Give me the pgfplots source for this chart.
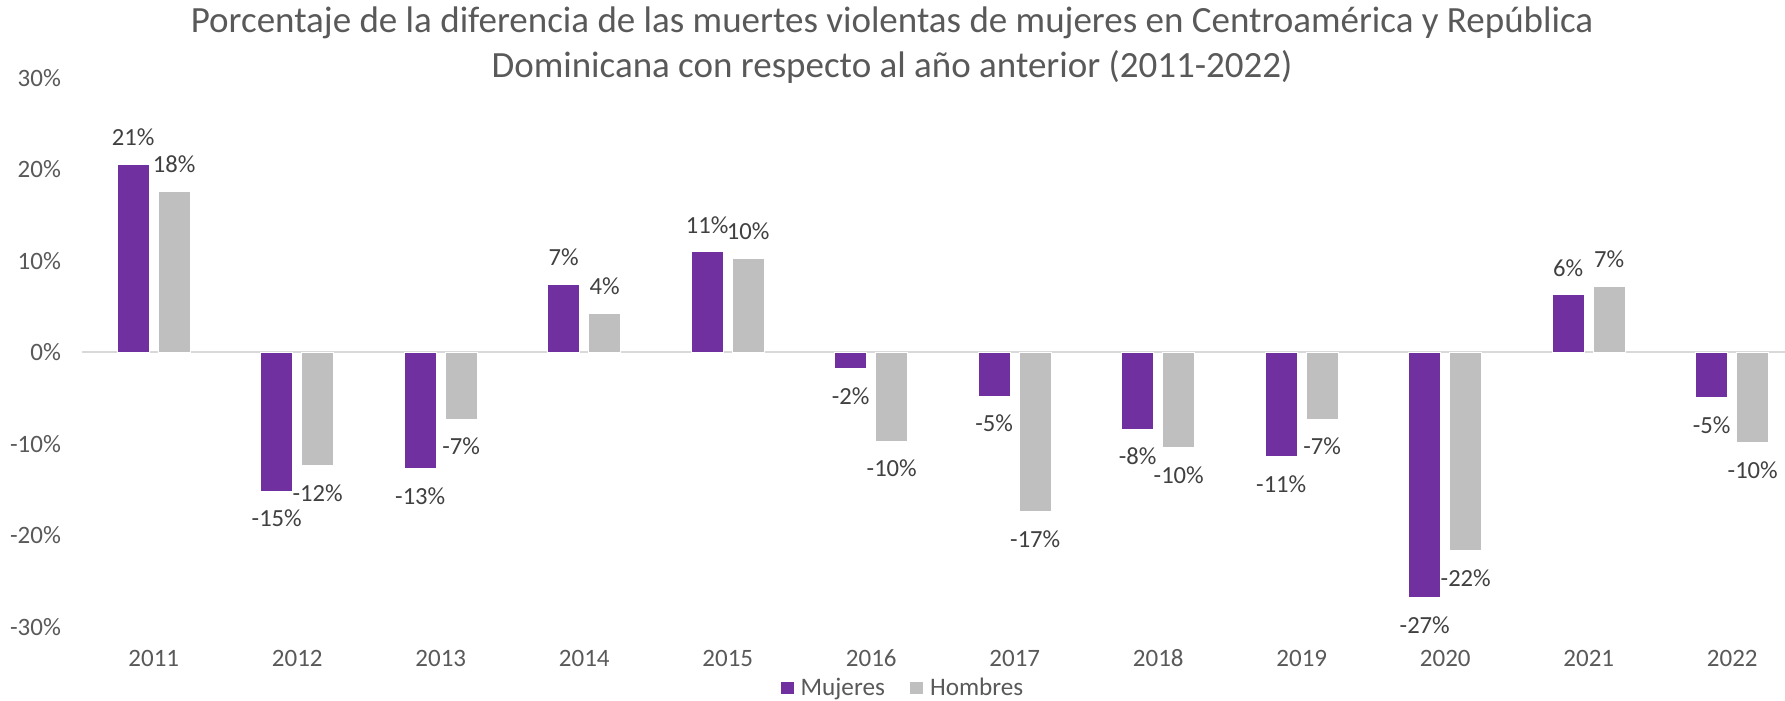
\documentclass[border=0pt]{standalone}
\usepackage{pgfplots}
\pgfplotsset{compat=1.18}
\usepackage{fontspec}
\setmainfont{Carlito}
\definecolor{mujer}{HTML}{7030A0}
\definecolor{hombre}{HTML}{BFBFBF}
\definecolor{txt}{HTML}{595959}
\definecolor{lbl}{HTML}{404040}
\definecolor{zl}{HTML}{D9D9D9}
\begin{document}
\begin{tikzpicture}
\path[use as bounding box] (0,0) rectangle (892.5pt,350.5pt);
\begin{axis}[
  at={(41pt,37pt)}, anchor=south west,
  scale only axis, width=861pt, height=274.5pt,
  xmin=-0.5, xmax=11.5, ymin=-30, ymax=30,
  clip=false,
  ybar=4.5pt, bar width=16pt,
  xtick={0,1,2,3,4,5,6,7,8,9,10,11},
  xticklabels={2011,2012,2013,2014,2015,2016,2017,2018,2019,2020,2021,2022},
  ytick={-30,-20,-10,0,10,20,30},
  /pgf/number format/assume math mode=true,
  yticklabel={\pgfmathprintnumber{\tick}\%},
  axis line style={draw=none},
  major tick length=0pt,
  tick style={draw=none},
  ticklabel style={font=\fontsize{12.5}{14}\selectfont, text=txt},
  xticklabel style={anchor=center, yshift=-15.5pt},
  yticklabel style={anchor=east, xshift=-7pt},
  extra y ticks={0},
  extra y tick labels={},
  extra y tick style={grid=major, major grid style={zl, line width=1pt}},
  nodes near coords={\pgfmathprintnumber[fixed,precision=0,assume math mode=true]{\pgfplotspointmeta}\%},
  nodes near coords style={font=\fontsize{12.3}{14}\selectfont, text=lbl, inner ysep=9pt},
  legend style={at={(0.477,-0.111)}, anchor=center, draw=none, fill=none,
    legend columns=2, font=\fontsize{12.6}{15}\selectfont, text=txt,
    /tikz/every even column/.append style={column sep=10pt},
    /tikz/every odd column/.append style={column sep=1pt}},
  legend image code/.code={\fill[#1] (0pt,-3.5pt) rectangle (7pt,3.5pt);},
]
\addplot[fill=mujer, draw=white, line width=0.6pt] coordinates {
(0,20.6) (1,-15.2) (2,-12.7) (3,7.4) (4,11.0) (5,-1.8) (6,-4.8) (7,-8.4) (8,-11.4) (9,-26.8) (10,6.3) (11,-4.95)};
\addplot[fill=hombre, draw=white, line width=0.6pt] coordinates {
(0,17.6) (1,-12.4) (2,-7.3) (3,4.3) (4,10.3) (5,-9.7) (6,-17.4) (7,-10.4) (8,-7.3) (9,-21.7) (10,7.2) (11,-9.87)};
\legend{Mujeres, Hombres}
\end{axis}
\node[font=\fontsize{18.5}{22.5}\selectfont, text=txt, align=center] at (446pt,327.75pt)
 {Porcentaje de la diferencia de las muertes violentas de mujeres en Centroamérica y República\\Dominicana con respecto al año anterior (2011-2022)};
\end{tikzpicture}
\end{document}
